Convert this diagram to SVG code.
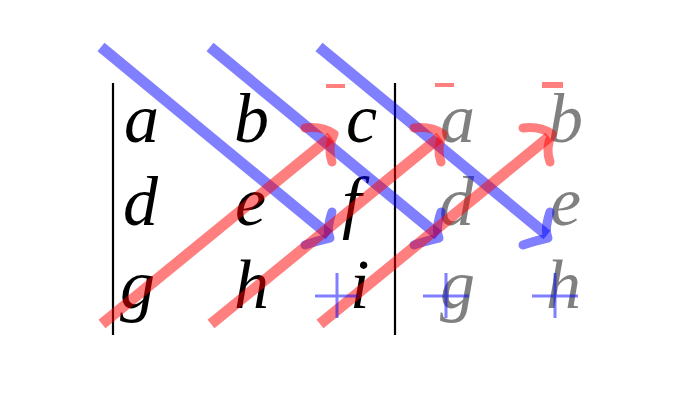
<svg xmlns="http://www.w3.org/2000/svg" width="685" height="407" viewBox="0 0 685 407">
<style>
.m{font-family:"Liberation Serif","Times New Roman",serif;font-style:italic;font-size:70px;fill:#000}
.g{fill:#808080}
.bar{stroke:#000;stroke-width:2.2;fill:none}
.bl{stroke:#0000ff;stroke-opacity:0.5;stroke-width:11;fill:none}
.rd{stroke:#ff0000;stroke-opacity:0.5;stroke-width:11;fill:none}
.bh{stroke:#0000ff;stroke-opacity:0.5;stroke-width:9;fill:none;stroke-linecap:round;stroke-linejoin:round}
.rh{stroke:#ff0000;stroke-opacity:0.5;stroke-width:9;fill:none;stroke-linecap:round;stroke-linejoin:round}
.plus{stroke:#0000ff;stroke-opacity:0.5;stroke-width:3;fill:none}
.minus{fill:#ff0000;fill-opacity:0.5}
</style>
<rect width="685" height="407" fill="#fff"/>
<g id="bars">
<line class="bar" x1="113" y1="83" x2="113" y2="335"/>
<line class="bar" x1="395" y1="83" x2="395" y2="335"/>
</g>
<g id="matrix">
<text class="m" x="124" y="142">a</text>
<text class="m" x="234" y="142">b</text>
<text class="m" x="346" y="142">c</text>
<text class="m" x="123" y="225">d</text>
<text class="m" x="235" y="225">e</text>
<text class="m" x="342" y="225">f</text>
<text class="m" x="120" y="308">g</text>
<text class="m" x="234" y="308">h</text>
<text class="m" x="350" y="308">i</text>
</g>
<g id="repeat">
<text class="m g" x="440" y="142">a</text>
<text class="m g" x="548" y="142">b</text>
<text class="m g" x="439" y="225">d</text>
<text class="m g" x="550" y="225">e</text>
<text class="m g" x="440" y="308">g</text>
<text class="m g" x="546" y="308">h</text>
</g>
<g id="connectors">
<line class="bl" x1="101" y1="47" x2="329" y2="235"/>
<line class="bl" x1="210" y1="47" x2="438" y2="235"/>
<line class="bl" x1="319" y1="47" x2="547" y2="235"/>
<path class="bh" d="M332,212 Q326,230 330,238 Q320,240 305,245"/>
<path class="bh" d="M441,212 Q435,230 439,238 Q429,240 414,245"/>
<path class="bh" d="M550,212 Q544,230 548,238 Q538,240 523,245"/>
<line class="rd" x1="102" y1="324" x2="331" y2="137"/>
<line class="rd" x1="211" y1="324" x2="440" y2="137"/>
<line class="rd" x1="320" y1="324" x2="549" y2="137"/>
<path class="rh" d="M305,128 Q322,126 334,134 Q327,148 332,162"/>
<path class="rh" d="M414,128 Q431,126 443,134 Q436,148 441,162"/>
<path class="rh" d="M523,128 Q540,126 552,134 Q545,148 550,162"/>
</g>
<g id="signs">
<rect class="minus" x="326" y="84" width="19" height="4"/>
<rect class="minus" x="435" y="83" width="19" height="4"/>
<rect class="minus" x="542" y="82" width="21" height="6"/>
<path class="plus" d="M315,296 H358 M337,273 V318"/>
<path class="plus" d="M423,296 H469 M446,273 V318"/>
<path class="plus" d="M532,296 H578 M555,273 V318"/>
</g>
</svg>
